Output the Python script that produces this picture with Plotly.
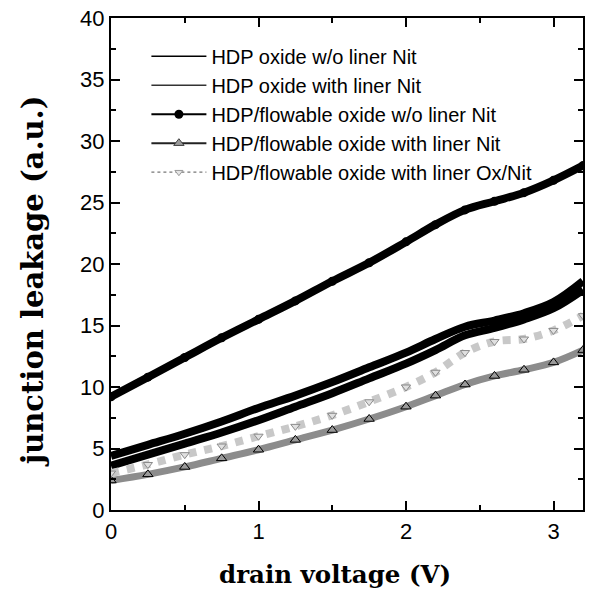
import plotly.graph_objects as go

# drain voltage (V)
voltage = [0, 0.25, 0.5, 0.75, 1.0, 1.25, 1.5, 1.75, 2.0, 2.2, 2.4, 2.6, 2.8, 3.0, 3.2]

hdp_wo_liner = [4.4, 5.3, 6.2, 7.2, 8.3, 9.3, 10.4, 11.6, 12.8, 13.9, 14.9, 15.4, 16.0, 16.9, 18.6]
hdp_with_liner = [3.6, 4.5, 5.4, 6.3, 7.3, 8.4, 9.5, 10.7, 11.9, 13.0, 14.2, 14.8, 15.5, 16.4, 17.9]
flow_wo_liner = [9.2, 10.8, 12.4, 14.0, 15.5, 17.0, 18.6, 20.1, 21.8, 23.2, 24.4, 25.1, 25.8, 26.8, 28.0]
flow_with_liner = [2.4, 2.9, 3.5, 4.2, 4.9, 5.7, 6.5, 7.4, 8.4, 9.3, 10.2, 10.9, 11.4, 12.0, 13.0]
flow_with_oxnit = [3.0, 3.7, 4.5, 5.2, 6.0, 6.8, 7.7, 8.8, 10.0, 11.2, 12.8, 13.7, 13.9, 14.6, 15.8]

names = [
    "HDP oxide w/o liner Nit",
    "HDP oxide with liner Nit",
    "HDP/flowable oxide w/o liner Nit",
    "HDP/flowable oxide with liner Nit",
    "HDP/flowable oxide with liner Ox/Nit",
]
x_title = "drain voltage (V)"
y_title = "junction leakage (a.u.)"

fig = go.Figure()

# data curves (drawn thick, like the dense overlapping markers of the original)
fig.add_trace(go.Scatter(x=voltage, y=hdp_wo_liner, mode="lines", showlegend=False,
                         line=dict(color="black", width=8, shape="spline")))
fig.add_trace(go.Scatter(x=voltage, y=hdp_with_liner, mode="lines", showlegend=False,
                         line=dict(color="black", width=8, shape="spline")))
fig.add_trace(go.Scatter(x=voltage, y=flow_wo_liner, mode="lines+markers", showlegend=False,
                         line=dict(color="black", width=8, shape="spline"),
                         marker=dict(symbol="circle", size=9, color="black")))
fig.add_trace(go.Scatter(x=voltage, y=flow_with_liner, mode="lines+markers", showlegend=False,
                         line=dict(color="#8c8c8c", width=7, shape="spline"),
                         marker=dict(symbol="triangle-up", size=9, color="#9a9a9a",
                                     line=dict(color="black", width=1))))
fig.add_trace(go.Scatter(x=voltage, y=flow_with_oxnit, mode="lines+markers", showlegend=False,
                         line=dict(color="#c8c8c8", width=8, dash="dot", shape="spline"),
                         marker=dict(symbol="triangle-down", size=8, color="#e0e0e0",
                                     line=dict(color="#8a8a8a", width=1))))

# legend entries (thin symbols as in the original legend)
fig.add_trace(go.Scatter(x=[None], y=[None], name=names[0], mode="lines",
                         line=dict(color="black", width=1.5)))
fig.add_trace(go.Scatter(x=[None], y=[None], name=names[1], mode="lines",
                         line=dict(color="#333333", width=1.5)))
fig.add_trace(go.Scatter(x=[None], y=[None], name=names[2], mode="lines+markers",
                         line=dict(color="black", width=2),
                         marker=dict(symbol="circle", size=9, color="black")))
fig.add_trace(go.Scatter(x=[None], y=[None], name=names[3], mode="lines+markers",
                         line=dict(color="#222222", width=2),
                         marker=dict(symbol="triangle-up", size=9, color="#9a9a9a",
                                     line=dict(color="#444444", width=1))))
fig.add_trace(go.Scatter(x=[None], y=[None], name=names[4], mode="lines+markers",
                         line=dict(color="#777777", width=1.2, dash="dot"),
                         marker=dict(symbol="triangle-down", size=7, color="#e6e6e6",
                                     line=dict(color="#999999", width=1))))

axis_common = dict(
    showline=True, linecolor="black", linewidth=2, mirror="ticks",
    ticks="inside", ticklen=9, tickwidth=2, tickcolor="black",
    showgrid=False, zeroline=False,
    tickfont=dict(family="Liberation Sans, Arial", size=22, color="black"),
)

fig.update_xaxes(
    range=[0, 3.2], tickvals=[0, 1, 2, 3], ticklabelstandoff=1,
    minor=dict(ticks="inside", ticklen=5, tickwidth=1.5, tickcolor="black", dtick=0.5),
    **axis_common,
)
fig.update_yaxes(
    range=[0, 40], tickvals=[0, 5, 10, 15, 20, 25, 30, 35, 40],
    minor=dict(ticks="inside", ticklen=5, tickwidth=1.5, tickcolor="black", dtick=2.5),
    **axis_common,
)

fig.add_annotation(text="<b>" + x_title + "</b>", xref="paper", yref="paper",
                   x=0.475, y=-0.132, xanchor="center", yanchor="middle",
                   showarrow=False,
                   font=dict(family="DejaVu Serif, serif", size=24.5, color="black"))
fig.add_annotation(text="<b>" + y_title + "</b>", xref="paper", yref="paper",
                   x=-0.165, y=0.465, xanchor="center", yanchor="middle",
                   textangle=-90, showarrow=False,
                   font=dict(family="DejaVu Serif, serif", size=29, color="black"))

fig.update_layout(
    width=589, height=593,
    margin=dict(l=111, r=4, t=18, b=83),
    paper_bgcolor="white", plot_bgcolor="white",
    showlegend=True,
    legend=dict(
        x=0.075, y=0.962, xanchor="left", yanchor="top",
        bgcolor="rgba(0,0,0,0)", borderwidth=0,
        font=dict(family="Liberation Sans, Arial", size=20, color="black"),
        itemwidth=55, tracegroupgap=0,
    ),
)

fig.write_html("out.html")
